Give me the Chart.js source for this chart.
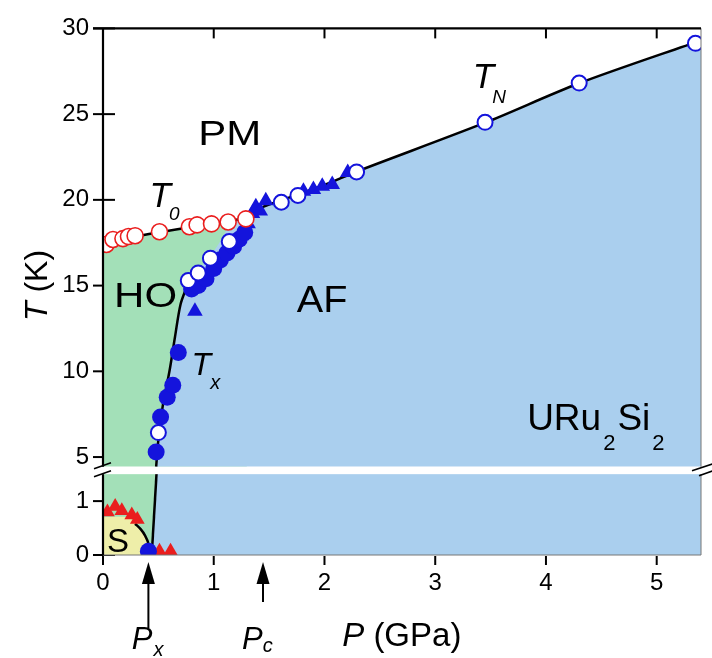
<!DOCTYPE html>
<html>
<head>
<meta charset="utf-8">
<script src="https://cdn.jsdelivr.net/npm/chart.js@4.4.1/dist/chart.umd.min.js"></script>
<style>
  html, body { margin: 0; padding: 0; background: #fff; }
  #wrap { width: 712px; height: 658px; }
</style>
</head>
<body>
<div id="wrap"><canvas id="c" width="712" height="658"></canvas></div>
<script>
// Ejes: presión P (GPa) y temperatura T (K), eje T partido en dos tramos
const P_MAX = 5.4;
const HIGH_MIN = 4.43;   // base del tramo superior
const HIGH_MAX = 30;
const LOW_MAX = 1.636;   // techo del tramo inferior (la franja blanca tapa 1.5-1.636)
const pTicks = [0, 1, 2, 3, 4, 5];
const tTicksHigh = [5, 10, 15, 20, 25, 30];
const tTicksLow = [0, 1];

// Datos medidos
// T0 (orden oculto): círculos rojos abiertos
const t0P = [0.03, 0.09, 0.18, 0.23, 0.29, 0.51, 0.78, 0.85, 0.98, 1.13, 1.29];
const t0T = [17.40, 17.69, 17.74, 17.86, 17.91, 18.14, 18.43, 18.54, 18.60, 18.71, 18.89];
// Tx / TN: círculos azules abiertos
const afOpenP = [0.50, 0.77, 0.86, 0.97, 1.14, 1.61, 1.76, 2.29, 3.45, 4.30, 5.35];
const afOpenT = [6.43, 15.29, 15.74, 16.60, 17.57, 19.86, 20.26, 21.63, 24.52, 26.81, 29.13];
// Tx: círculos azules rellenos
const afDotP = [0.48, 0.52, 0.58, 0.63, 0.68, 0.80, 0.86, 0.93, 1.00, 1.06, 1.12, 1.18, 1.23, 1.28];
const afDotT = [5.29, 7.34, 8.49, 9.19, 11.10, 14.80, 15.00, 15.40, 16.00, 16.50, 16.90, 17.30, 17.70, 18.10];
// Triángulos azules
const afTriP = [0.83, 1.25, 1.31, 1.35, 1.38, 1.42, 1.47, 1.81, 1.90, 1.98, 2.07, 2.21];
const afTriT = [13.5, 17.9, 18.6, 19.2, 19.6, 19.35, 19.95, 20.5, 20.6, 20.8, 20.9, 21.6];
// Tramo inferior: superconductividad (triángulos rojos) y Px
const scP = [0.04, 0.11, 0.17, 0.26, 0.31, 0.51, 0.61];
const scT = [0.80, 0.90, 0.82, 0.74, 0.66, 0.07, 0.07];
const pxDotP = [0.41];
const pxDotT = [0.07];

// Fronteras de fase
const t0LineP = [0, 0.1, 0.3, 0.5, 0.8, 1.0, 1.3];
const t0LineT = [16.95, 17.45, 17.85, 18.1, 18.42, 18.6, 18.95];
const afEdgeP = [0.48, 0.50, 0.54, 0.60, 0.65, 0.70, 0.75, 0.80, 0.90, 1.00, 1.08, 1.14, 1.22, 1.30, 1.45, 1.60, 1.80, 2.05, 2.29, 3.45, 4.30, 5.40];
const afEdgeT = [4.43, 6.0, 8.0, 10.0, 12.0, 13.9, 14.9, 15.5, 16.2, 17.0, 17.8, 18.5, 18.9, 19.1, 19.6, 19.95, 20.4, 21.0, 21.65, 24.5, 26.8, 29.3];
const txLineP = [0.48, 0.50, 0.54, 0.60, 0.65, 0.70, 0.76];
const txLineT = [4.43, 6.0, 8.0, 10.0, 12.0, 13.9, 15.0];
const tnLineP = [1.30, 1.45, 1.60, 1.80, 2.05, 2.29, 3.45, 4.30, 5.40];
const tnLineT = [19.1, 19.6, 19.95, 20.4, 21.0, 21.65, 24.5, 26.8, 29.3];
const hoLowP = [0, 0.5];
const hoLowT = [LOW_MAX, LOW_MAX];
const afLowP = [0.44, 0.487, P_MAX];
const afLowT = [0, LOW_MAX, LOW_MAX];
const txLowP = [0.44, 0.487];
const txLowT = [0, LOW_MAX];
const sRegP = [0, 0.22, 0.28, 0.33, 0.38, 0.41, 0.42];
const sRegT = [0.70, 0.70, 0.62, 0.50, 0.36, 0.21, 0];
const sArcP = [0.29, 0.34, 0.38, 0.41, 0.42];
const sArcT = [0.58, 0.48, 0.36, 0.21, 0];

const FONT = '"Liberation Sans", Arial, Helvetica, sans-serif';
const BLUE_FILL = '#aacfee';
const GREEN_FILL = '#a3e0b8';
const YELLOW_FILL = '#eeeea9';
const RED = '#ea1e1e';
const BLUE = '#1414dc';

Chart.defaults.font.family = FONT;
Chart.defaults.color = '#000';

const xy = (ps, ts) => ps.map((p, i) => ({ x: p, y: ts[i] }));

function region(ps, ts, axis, color, order) {
  return { data: xy(ps, ts), yAxisID: axis, fill: 'start', backgroundColor: color,
    borderWidth: 0, borderColor: 'rgba(0,0,0,0)', pointRadius: 0, order: order, tension: 0.3 };
}
function curve(ps, ts, axis, order) {
  return { data: xy(ps, ts), yAxisID: axis, fill: false, borderColor: '#000',
    borderWidth: 2.5, pointRadius: 0, order: order, tension: 0.3 };
}
function marks(ps, ts, axis, style, order) {
  return Object.assign({ data: xy(ps, ts), yAxisID: axis, showLine: false, order: order, clip: 0 }, style);
}

// Etiquetas de texto (coordenadas de datos)
const labels = [
  { axis: 'yHigh', p: 0.86, t: 23.2, sx: 1.2, parts: [{ t: 'PM', size: 35 }] },
  { axis: 'yHigh', p: 0.10, t: 13.74, sx: 1.2, parts: [{ t: 'HO', size: 35 }] },
  { axis: 'yHigh', p: 1.75, t: 13.46, sx: 1.1, parts: [{ t: 'AF', size: 36 }] },
  { axis: 'yHigh', p: 0.42, t: 19.57, parts: [{ t: 'T', size: 35, it: true }, { t: '0', size: 19, it: true, dy: 13, dx: -2 }] },
  { axis: 'yHigh', p: 3.34, t: 26.54, parts: [{ t: 'T', size: 35, it: true }, { t: 'N', size: 19, it: true, dy: 15, dx: -2 }] },
  { axis: 'yHigh', p: 0.80, t: 9.8, parts: [{ t: 'T', size: 32, it: true }, { t: 'x', size: 20, it: true, dy: 14, dx: -1 }] },
  { axis: 'yHigh', p: 3.83, t: 6.6, parts: [{ t: 'URu', size: 37 }, { t: '2', size: 22, dy: 20, dx: 2 }, { t: 'Si', size: 37, dx: 2 }, { t: '2', size: 22, dy: 20, dx: 2 }] },
  { axis: 'yLow', p: 0.036, t: 0.055, parts: [{ t: 'S', size: 33 }] }
];
const belowLabels = [
  { p: 0.26, dy: 94, parts: [{ t: 'P', size: 31, it: true }, { t: 'x', size: 20, it: true, dy: 7, dx: 1 }] },
  { p: 1.256, dy: 94, parts: [{ t: 'P', size: 31, it: true }, { t: 'c', size: 20, it: true, dy: 3, dx: 0 }] },
  { p: 2.16, dy: 91, parts: [{ t: 'P', size: 33, it: true }, { t: ' (GPa)', size: 33 }] }
];
const arrows = [{ p: 0.41, len: 66 }, { p: 1.445, len: 40 }];

function drawParts(ctx, x, y, parts, sx) {
  ctx.save();
  ctx.translate(x, y);
  ctx.scale(sx || 1, 1);
  ctx.fillStyle = '#000';
  ctx.textBaseline = 'alphabetic';
  ctx.textAlign = 'left';
  let cx = 0;
  for (const part of parts) {
    ctx.font = (part.it ? 'italic ' : '') + part.size + 'px ' + FONT;
    cx += part.dx || 0;
    ctx.fillText(part.t, cx, part.dy || 0);
    cx += ctx.measureText(part.t).width;
  }
  ctx.restore();
}

function line(ctx, x1, y1, x2, y2) {
  ctx.beginPath(); ctx.moveTo(x1, y1); ctx.lineTo(x2, y2); ctx.stroke();
}

const framePlugin = {
  id: 'frame',
  beforeDatasetsDraw(chart) {
    const { ctx, chartArea: a, scales } = chart;
    ctx.save();
    ctx.strokeStyle = '#000';
    ctx.lineWidth = 2;
    // marcas interiores (quedan tapadas por las regiones coloreadas)
    tTicksHigh.forEach(v => { const y = scales.yHigh.getPixelForValue(v); line(ctx, a.left, y, a.left + 12, y); });
    tTicksLow.forEach(v => { const y = scales.yLow.getPixelForValue(v); line(ctx, a.left, y, a.left + 12, y); });
    ctx.restore();
  },
  afterDatasetsDraw(chart) {
    const { ctx, chartArea: a, scales } = chart;
    const yb = scales.yHigh.bottom;
    const gapBottom = scales.yLow.getPixelForValue(1.5);
    ctx.save();
    // franja blanca del corte
    ctx.fillStyle = '#fff';
    ctx.fillRect(a.left - 1, yb, a.right - a.left + 12, gapBottom - yb);
    // bordes
    ctx.strokeStyle = '#777';
    ctx.lineWidth = 1;
    line(ctx, a.right, a.top, a.right, yb);
    line(ctx, a.right, gapBottom, a.right, a.bottom);
    line(ctx, a.left, a.bottom, a.right, a.bottom);
    ctx.strokeStyle = '#000';
    ctx.lineWidth = 2.2;
    line(ctx, a.left - 10, a.top, a.right, a.top);
    line(ctx, a.left, a.top, a.left, yb);
    line(ctx, a.left, gapBottom, a.left, a.bottom);
    ctx.lineWidth = 2;
    tTicksHigh.forEach(v => { const y = scales.yHigh.getPixelForValue(v); line(ctx, a.left - 10, y, a.left, y); });
    tTicksLow.forEach(v => { const y = scales.yLow.getPixelForValue(v); line(ctx, a.left - 10, y, a.left, y); });
    pTicks.forEach(v => {
      const x = scales.x.getPixelForValue(v);
      line(ctx, x, a.bottom + 1, x, a.bottom + 10);
      if (v > 0) line(ctx, x, a.top, x, a.top + 10);
    });
    // marcas de corte //
    ctx.lineWidth = 1.6;
    line(ctx, a.left - 9, yb + 2, a.left + 8, yb - 4);
    line(ctx, a.left - 9, yb + 10, a.left + 8, yb + 4);
    line(ctx, a.right - 9, yb + 4, a.right + 12, yb - 3);
    line(ctx, a.right - 2, yb + 9, a.right + 12, yb + 4);
    // flechas Px y Pc
    ctx.fillStyle = '#000';
    ctx.lineWidth = 2;
    arrows.forEach(ar => {
      const x = scales.x.getPixelForValue(ar.p);
      const tip = a.bottom + 7;
      line(ctx, x, tip + 15, x, tip + ar.len);
      ctx.beginPath();
      ctx.moveTo(x, tip); ctx.lineTo(x - 6.5, tip + 22); ctx.lineTo(x + 6.5, tip + 22);
      ctx.closePath(); ctx.fill();
    });
    // textos
    labels.forEach(l => {
      drawParts(ctx, scales.x.getPixelForValue(l.p), scales[l.axis].getPixelForValue(l.t), l.parts, l.sx);
    });
    belowLabels.forEach(l => {
      drawParts(ctx, scales.x.getPixelForValue(l.p), a.bottom + l.dy, l.parts, l.sx);
    });
    // título del eje T
    ctx.translate(47, 321);
    ctx.rotate(-Math.PI / 2);
    drawParts(ctx, 0, 0, [{ t: 'T', size: 32, it: true }, { t: ' (K)', size: 32 }]);
    ctx.restore();
  }
};

const openRed = { pointStyle: 'circle', pointRadius: 8, pointBorderWidth: 1.6, pointBorderColor: RED, pointBackgroundColor: '#fff' };
const openBlue = { pointStyle: 'circle', pointRadius: 7.5, pointBorderWidth: 2, pointBorderColor: BLUE, pointBackgroundColor: '#fff' };
const dotBlue = { pointStyle: 'circle', pointRadius: 8.5, pointBorderWidth: 0, pointBorderColor: BLUE, pointBackgroundColor: BLUE };
const triBlue = { pointStyle: 'triangle', pointRadius: 9, pointBorderWidth: 0, pointBorderColor: BLUE, pointBackgroundColor: BLUE };
const triRed = { pointStyle: 'triangle', pointRadius: 8.5, pointBorderWidth: 0, pointBorderColor: RED, pointBackgroundColor: RED };

const yCommon = {
  type: 'linear', position: 'left', stack: 'T',
  grid: { display: false, drawTicks: false }, border: { display: false },
  ticks: { font: { size: 24 }, padding: 14, color: '#000' },
  afterFit: s => { s.width = 103; }
};

new Chart(document.getElementById('c'), {
  type: 'line',
  data: {
    datasets: [
      region(t0LineP, t0LineT, 'yHigh', GREEN_FILL, 20),
      region(afEdgeP, afEdgeT, 'yHigh', BLUE_FILL, 19),
      region(hoLowP, hoLowT, 'yLow', GREEN_FILL, 18),
      Object.assign(region(afLowP, afLowT, 'yLow', BLUE_FILL, 17), { tension: 0 }),
      region(sRegP, sRegT, 'yLow', YELLOW_FILL, 16),
      curve(t0LineP, t0LineT, 'yHigh', 10),
      curve(txLineP, txLineT, 'yHigh', 10),
      curve(tnLineP, tnLineT, 'yHigh', 10),
      Object.assign(curve(txLowP, txLowT, 'yLow', 10), { tension: 0 }),
      curve(sArcP, sArcT, 'yLow', 10),
      marks(afTriP, afTriT, 'yHigh', triBlue, 5),
      marks(afDotP, afDotT, 'yHigh', dotBlue, 4),
      marks(afOpenP, afOpenT, 'yHigh', openBlue, 3),
      marks(t0P, t0T, 'yHigh', openRed, 2),
      marks(scP, scT, 'yLow', triRed, 2),
      marks(pxDotP, pxDotT, 'yLow', dotBlue, 1)
    ]
  },
  options: {
    responsive: false,
    animation: false,
    layout: { padding: { top: 17.5, right: 11, left: 0, bottom: 0 } },
    plugins: { legend: { display: false }, tooltip: { enabled: false } },
    scales: {
      x: {
        type: 'linear', position: 'bottom', min: 0, max: P_MAX,
        grid: { display: false, drawTicks: false }, border: { display: false },
        ticks: { font: { size: 24 }, padding: 14, color: '#000' },
        afterBuildTicks: s => { s.ticks = pTicks.map(v => ({ value: v })); },
        afterFit: s => { s.height = 103; }
      },
      yLow: Object.assign({}, yCommon, {
        stackWeight: 90, min: 0, max: LOW_MAX,
        afterBuildTicks: s => { s.ticks = tTicksLow.map(v => ({ value: v })); }
      }),
      yHigh: Object.assign({}, yCommon, {
        stackWeight: 447.5, min: HIGH_MIN, max: HIGH_MAX,
        afterBuildTicks: s => { s.ticks = tTicksHigh.map(v => ({ value: v })); }
      })
    }
  },
  plugins: [framePlugin]
});
</script>
</body>
</html>
